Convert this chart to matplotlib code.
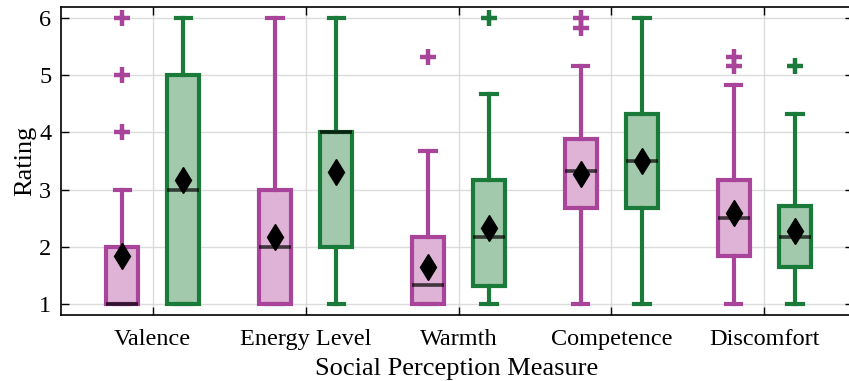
import matplotlib
matplotlib.use("Agg")
import matplotlib.pyplot as plt
import numpy as np

plt.rcParams["font.family"] = ["Liberation Serif", "DejaVu Serif"]

CATEGORIES = ["Valence", "Energy Level", "Warmth", "Competence", "Discomfort"]

# per-category box stats for the two groups (pink / green)
PINK_Q1 = [1.0, 1.0, 1.0, 2.67, 1.83]
PINK_MED = [1.0, 2.0, 1.33, 3.33, 2.5]
PINK_Q3 = [2.0, 3.0, 2.17, 3.88, 3.17]
PINK_LO = [1.0, 1.0, 1.0, 1.0, 1.0]
PINK_HI = [3.0, 6.0, 3.67, 5.17, 4.83]
PINK_MEAN = [1.83, 2.17, 1.65, 3.28, 2.58]
PINK_FLIERS = [[4, 5, 6], [], [5.33], [5.83, 6.0], [5.17, 5.33]]

GREEN_Q1 = [1.0, 2.0, 1.3, 2.67, 1.65]
GREEN_MED = [3.0, 4.0, 2.17, 3.5, 2.17]
GREEN_Q3 = [5.0, 4.0, 3.17, 4.33, 2.71]
GREEN_LO = [1.0, 1.0, 1.0, 1.0, 1.0]
GREEN_HI = [6.0, 6.0, 4.67, 6.0, 4.33]
GREEN_MEAN = [3.17, 3.3, 2.33, 3.5, 2.27]
GREEN_FLIERS = [[], [], [6.0], [], [5.17]]

PINK = "#a8449a"
PINK_FILL = "#dfb3d6"
GREEN = "#1a7a3a"
GREEN_FILL = "#a3c9ac"


def make_stats(q1, med, q3, lo, hi, mean, fliers):
    return [dict(q1=a, med=b, q3=c, whislo=d, whishi=e, mean=f, fliers=g)
            for a, b, c, d, e, f, g in zip(q1, med, q3, lo, hi, mean, fliers)]


fig = plt.figure(figsize=(8.49, 3.81), dpi=100)
ax = fig.add_axes([61 / 849, 66 / 381, 792 / 849, 308 / 381])

x = np.arange(len(CATEGORIES))
off = 0.2
groups = [
    (make_stats(PINK_Q1, PINK_MED, PINK_Q3, PINK_LO, PINK_HI, PINK_MEAN, PINK_FLIERS), x - off, PINK, PINK_FILL),
    (make_stats(GREEN_Q1, GREEN_MED, GREEN_Q3, GREEN_LO, GREEN_HI, GREEN_MEAN, GREEN_FLIERS), x + off, GREEN, GREEN_FILL),
]

for stats, pos, edge, fill in groups:
    ax.bxp(stats, positions=pos, widths=0.21, capwidths=0.1,
           showmeans=True, patch_artist=True,
           boxprops=dict(facecolor=fill, edgecolor=edge, linewidth=3),
           whiskerprops=dict(color=edge, linewidth=3),
           capprops=dict(color=edge, linewidth=3),
           medianprops=dict(color="black", alpha=0.7, linewidth=2.6),
           meanprops=dict(marker="d", markerfacecolor="black",
                          markeredgecolor="black", markersize=13),
           flierprops=dict(marker="+", markerfacecolor=edge,
                           markeredgecolor=edge, markersize=11,
                           markeredgewidth=3.2),
           zorder=3)

ax.set_xlim(-0.6, 4.58)
ax.set_ylim(0.8, 6.2)
ax.set_xticks(x)
ax.set_xticklabels(CATEGORIES, fontsize=17.5)
ax.set_yticks([1, 2, 3, 4, 5, 6])
ax.set_yticklabels(["1", "2", "3", "4", "5", "6"], fontsize=17.5)
ax.tick_params(direction="in", length=6, width=1, top=True, right=True, pad=7)
ax.tick_params(axis="x", pad=10)
ax.grid(True, color="#d4d4d4", alpha=0.8, linewidth=1, zorder=0)
ax.set_axisbelow(True)
ax.set_xlabel("Social Perception Measure", fontsize=19, labelpad=6)
ax.set_ylabel("Rating", fontsize=19, labelpad=2)
for s in ax.spines.values():
    s.set_linewidth(1.2)

fig.savefig("out.png", dpi=100)
